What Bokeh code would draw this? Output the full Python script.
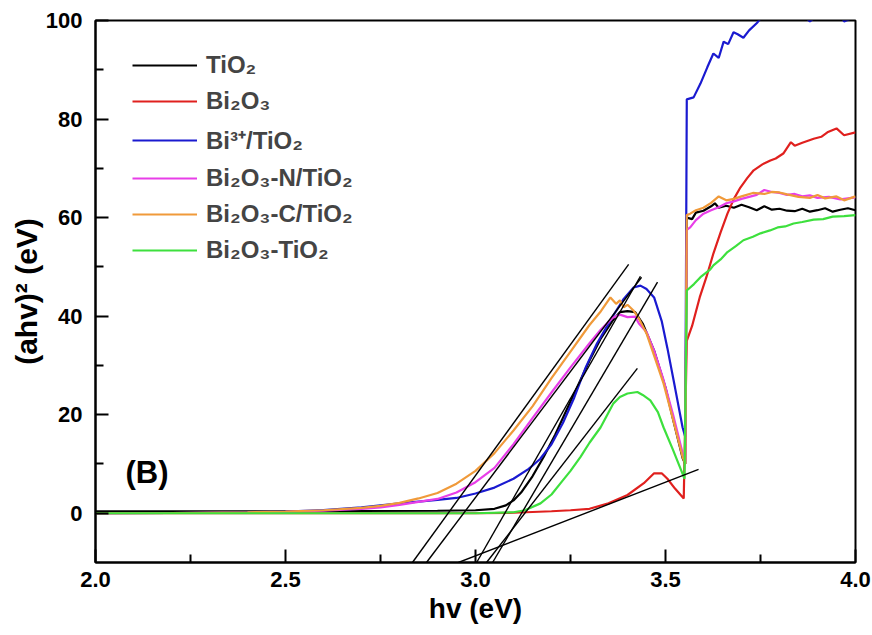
from bokeh.plotting import figure
from bokeh.models import FixedTicker, Legend, LegendItem, Label, NumeralTickFormatter
from bokeh.embed import file_html
from bokeh.resources import INLINE

# ---- data ----
tio2_x = [2.0, 2.5, 2.9, 3.0, 3.05, 3.08, 3.1, 3.12, 3.15, 3.18, 3.21, 3.24, 3.27, 3.3, 3.33, 3.36, 3.38, 3.40, 3.42,
          3.44, 3.47, 3.5, 3.52, 3.545, 3.552, 3.556, 3.57, 3.58, 3.6, 3.62, 3.63, 3.64, 3.66, 3.68, 3.7, 3.72, 3.74,
          3.76, 3.78, 3.8, 3.82, 3.84, 3.86, 3.88, 3.9, 3.92, 3.94, 3.96, 3.98, 4.0]
tio2_y = [0.4, 0.4, 0.5, 0.6, 0.9, 1.6, 2.6, 4.2, 7.5, 11.5, 16.0, 21.0, 26.0, 31.0, 35.5, 39.0, 40.8, 41.0, 40.8,
          38.5, 33.0, 25.5, 19.0, 11.2, 10.0, 60.0, 59.7, 61.0, 61.4, 62.3, 62.9, 62.0, 62.4, 62.0, 62.6, 62.1, 61.5,
          62.3, 61.6, 61.8, 61.4, 61.3, 61.8, 61.2, 61.5, 61.9, 61.2, 61.6, 61.9, 61.5]

bi2o3_x = [2.0, 2.5, 3.0, 3.1, 3.2, 3.25, 3.3, 3.35, 3.4, 3.443, 3.47, 3.49, 3.505, 3.525, 3.548, 3.556, 3.57, 3.59,
           3.608, 3.626, 3.645, 3.663, 3.68, 3.697, 3.715, 3.732, 3.755, 3.776, 3.79, 3.81, 3.83, 3.84, 3.86, 3.89,
           3.91, 3.926, 3.95, 3.97, 4.0]
bi2o3_y = [0.0, 0.0, 0.0, 0.1, 0.4, 0.6, 0.9, 2.0, 3.7, 6.1, 8.1, 8.1, 7.0, 5.0, 3.0, 35.0, 38.0, 43.8,
           48.0, 52.7, 57.0, 60.8, 63.8, 66.1, 68.0, 69.6, 70.8, 71.6, 72.0, 73.0, 75.3, 74.6, 75.2, 76.0,
           76.4, 77.3, 78.1, 76.7, 77.3]

bi3_x = [2.0, 2.2, 2.4, 2.5, 2.6, 2.7, 2.8, 2.9, 2.95, 3.0, 3.05, 3.1, 3.14, 3.17, 3.2, 3.23, 3.26, 3.29, 3.32, 3.36,
         3.39, 3.416, 3.434, 3.45, 3.47, 3.49, 3.505, 3.525, 3.545, 3.552, 3.556, 3.574, 3.592, 3.61, 3.626, 3.64,
         3.653, 3.665, 3.679, 3.69, 3.705, 3.72, 3.742, 3.76, 3.78, 3.8, 3.83, 3.86, 3.88, 3.9, 3.93, 3.96, 3.97, 4.0]
bi3_y = [0.0, 0.05, 0.2, 0.35, 0.65, 1.2, 2.0, 2.7, 3.1, 4.0, 5.2, 7.0, 9.0, 11.0, 14.0, 18.3, 23.5, 29.6, 34.5, 39.8,
         43.5, 45.8, 46.2, 45.5, 43.8, 39.0, 33.5, 25.5, 17.4, 15.5, 84.0, 84.4, 87.2, 90.5, 93.3, 92.4,
         95.7, 95.2, 97.6, 97.2, 96.5, 98.0, 99.6, 101.5, 102.0, 101.8, 102.5, 101.3, 99.8, 101.0, 102.0, 101.2, 99.8, 100.8]

n_x = [2.0, 2.2, 2.4, 2.5, 2.6, 2.7, 2.75, 2.8, 2.85, 2.9, 2.95, 3.0, 3.05, 3.1, 3.15, 3.2, 3.25, 3.3, 3.33, 3.36,
       3.38, 3.4, 3.42, 3.43, 3.45, 3.47, 3.495, 3.52, 3.545, 3.552, 3.556, 3.565, 3.58, 3.6, 3.62, 3.64, 3.66, 3.68,
       3.7, 3.72, 3.74, 3.76, 3.78, 3.8, 3.82, 3.84, 3.86, 3.88, 3.9, 3.93, 3.96, 4.0]
n_y = [0.0, 0.05, 0.15, 0.3, 0.5, 0.9, 1.2, 1.7, 2.3, 2.9, 4.2, 6.3, 9.2, 14.0, 19.3, 24.5, 29.6, 34.5, 37.3, 39.6,
       40.3, 39.8, 39.9, 38.5, 36.8, 33.0, 27.0, 20.0, 12.2, 10.5, 57.5, 58.0, 59.5, 60.8, 61.5, 62.1, 62.9, 63.3,
       63.8, 64.2, 64.6, 65.6, 65.2, 65.0, 64.6, 64.8, 64.3, 64.5, 64.0, 64.2, 63.7, 64.1]

c_x = [2.0, 2.2, 2.4, 2.5, 2.6, 2.7, 2.75, 2.8, 2.85, 2.9, 2.95, 3.0, 3.05, 3.1, 3.15, 3.2, 3.25, 3.3, 3.33, 3.355,
       3.37, 3.38, 3.39, 3.40, 3.415, 3.43, 3.45, 3.47, 3.495, 3.52, 3.545, 3.552, 3.556, 3.565, 3.58, 3.6, 3.62,
       3.64, 3.66, 3.68, 3.7, 3.73, 3.76, 3.78, 3.8, 3.82, 3.85, 3.88, 3.9, 3.92, 3.95, 3.97, 4.0]
c_y = [0.0, 0.05, 0.2, 0.35, 0.6, 1.1, 1.5, 2.1, 3.0, 4.1, 6.0, 8.6, 12.2, 16.8, 21.7, 27.4, 32.8, 38.2, 41.0, 43.8,
       42.5, 43.2, 41.8, 42.3, 41.2, 39.5, 36.5, 32.0, 26.3, 19.0, 11.4, 10.0, 60.5, 60.8, 61.5, 62.0, 63.0,
       64.3, 63.5, 63.8, 64.3, 65.0, 64.8, 65.2, 65.1, 64.7, 64.2, 64.0, 64.6, 63.9, 64.3, 63.5, 64.3]

g_x = [2.0, 3.0, 3.1, 3.13, 3.171, 3.2, 3.224, 3.25, 3.276, 3.3, 3.329, 3.363, 3.38, 3.4, 3.426, 3.44, 3.46, 3.48,
       3.495, 3.52, 3.545, 3.55, 3.556, 3.575, 3.592, 3.618, 3.626, 3.645, 3.663, 3.685, 3.705, 3.73, 3.75, 3.775,
       3.795, 3.815, 3.837, 3.86, 3.89, 3.915, 3.94, 3.97, 4.0]
g_y = [0.0, 0.0, 0.2, 0.6, 2.0, 3.8, 6.1, 8.6, 11.4, 14.3, 17.4, 22.3, 23.6, 24.3, 24.6, 24.0, 22.9, 20.5,
       17.4, 12.8, 8.0, 7.0, 45.2, 46.5, 47.9, 49.5, 50.3, 51.5, 53.0, 54.2, 55.4, 56.1, 56.8, 57.4,
       58.0, 58.2, 58.8, 59.1, 59.6, 59.7, 60.2, 60.3, 60.5]

# tangent lines (start/end points)
tan_x0 = [2.834, 2.871, 3.003, 3.045, 3.029, 2.955]
tan_y0 = [-10.0, -10.0, -10.0, -10.0, -10.0, -10.0]
tan_x1 = [3.403, 3.437, 3.434, 3.479, 3.426, 3.587]
tan_y1 = [50.5, 47.9, 48.1, 46.9, 29.4, 8.9]

labels = ["TiO₂", "Bi₂O₃", "Bi³⁺/TiO₂", "Bi₂O₃-N/TiO₂", "Bi₂O₃-C/TiO₂", "Bi₂O₃-TiO₂"]
colors = ["#000000", "#e0201e", "#1a1ad0", "#e83ee8", "#f09a3a", "#3de03d"]

x_major = [2.0, 2.5, 3.0, 3.5, 4.0]
x_minor = [2.25, 2.75, 3.25, 3.75]
y_major = [0, 20, 40, 60, 80, 100]
y_minor = [10, 30, 50, 70, 90]

FONT = "Liberation Sans"

p = figure(width=872, height=635, x_range=(2.0, 4.0), y_range=(-10, 100),
           output_backend="svg", toolbar_location=None,
           min_border_left=95, min_border_right=17, min_border_top=20, min_border_bottom=73)
p.grid.visible = False
p.outline_line_color = "black"
p.outline_line_width = 2
p.background_fill_color = "white"
p.border_fill_color = "white"

series = [(tio2_x, tio2_y), (bi2o3_x, bi2o3_y), (bi3_x, bi3_y), (n_x, n_y), (c_x, c_y), (g_x, g_y)]
rends = []
for (xs, ys), col in zip(series, colors):
    rends.append(p.line(xs, ys, line_color=col, line_width=2.2))

p.segment(x0=tan_x0, y0=tan_y0, x1=tan_x1, y1=tan_y1, line_color="black", line_width=1.4)

for ax in (p.xaxis[0], p.yaxis[0]):
    ax.axis_line_width = 2
    ax.major_tick_line_width = 2
    ax.minor_tick_line_width = 2
    ax.major_tick_in = 13
    ax.major_tick_out = 0
    ax.minor_tick_in = 8
    ax.minor_tick_out = 0
    ax.major_label_text_font = FONT
    ax.major_label_text_font_style = "bold"
    ax.major_label_text_font_size = "22px"
    ax.major_label_text_color = "black"
    ax.axis_label_text_font = FONT
    ax.axis_label_text_font_style = "bold"
    ax.axis_label_text_color = "black"

p.xaxis[0].ticker = FixedTicker(ticks=x_major, minor_ticks=x_minor)
p.xaxis[0].formatter = NumeralTickFormatter(format="0.0")
p.xaxis[0].major_label_standoff = 9
p.xaxis[0].axis_label = "hv (eV)"
p.xaxis[0].axis_label_text_font_size = "28px"
p.xaxis[0].axis_label_standoff = 3

p.yaxis[0].ticker = FixedTicker(ticks=y_major, minor_ticks=y_minor)
p.yaxis[0].major_label_standoff = 13
p.yaxis[0].axis_label = "(ahv)² (eV)"
p.yaxis[0].axis_label_text_font_size = "30px"
p.yaxis[0].axis_label_standoff = 0

items = [LegendItem(label=lab, renderers=[r]) for lab, r in zip(labels, rends)]
legend = Legend(items=items, location=(37, 298), padding=10, spacing=8,
                glyph_width=65, glyph_height=28, label_height=28, label_standoff=9,
                label_text_font=FONT, label_text_font_style="bold", label_text_font_size="24px",
                border_line_color=None, background_fill_alpha=0)
p.add_layout(legend)

p.add_layout(Label(x=2.079, y=8.3, text="(B)", text_font=FONT, text_font_style="bold",
                   text_color="black", text_font_size="31px", text_baseline="middle", text_align="left"))

open("out.html", "w").write(file_html(p, INLINE))
